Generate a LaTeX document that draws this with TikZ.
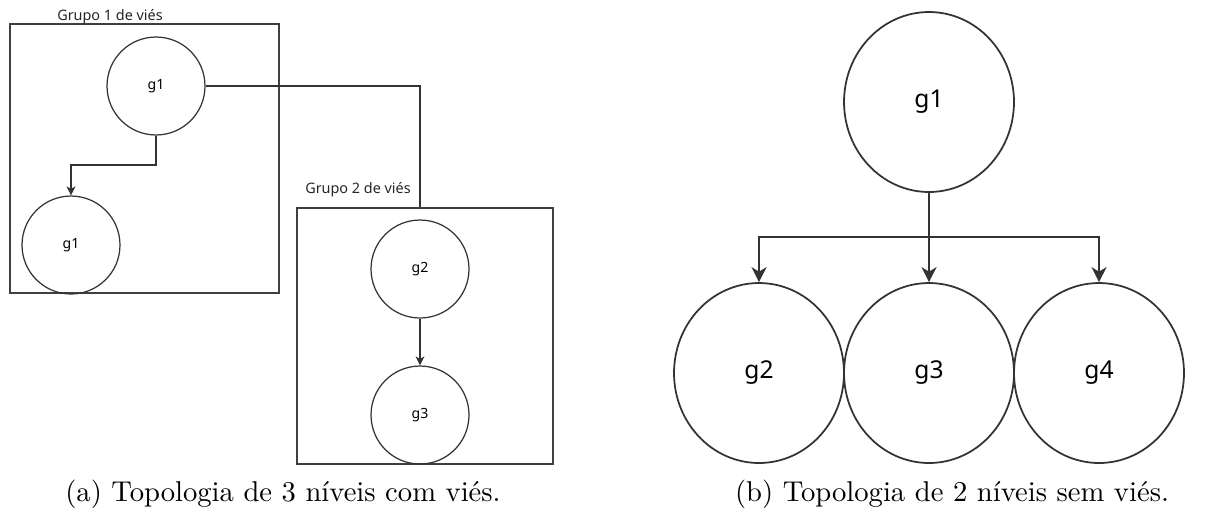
\documentclass[tikz,border=0pt]{standalone}
\usepackage{fontspec}
\newfontfamily\drawfont{Noto Sans}
\usetikzlibrary{arrows.meta, positioning, shapes.geometric}

\begin{document}
\begin{tikzpicture}[
    x=0.02cm, y=-0.02cm,
    grp/.style={rectangle, draw=black!75, line width=0.7pt, minimum width=5.38cm, minimum height=5.38cm},
    grplabel/.style={font=\drawfont\fontsize{8.2}{9}\selectfont, text=black!85},
    vtx/.style={circle, draw=black!80, line width=0.7pt, minimum size=1.96cm, font=\drawfont\fontsize{8}{9}\selectfont},
    bigvtx/.style={ellipse, draw=black!80, line width=1pt, minimum width=3.4cm, minimum height=3.6cm, font=\drawfont\fontsize{14}{16}\selectfont},
    arr/.style={-{Stealth[length=1.8mm, width=1.8mm, inset=0.5mm]}, line width=0.7pt, draw=black!80},
    bigarr/.style={-{Stealth[length=3mm, width=3mm, inset=0.9mm]}, line width=1.2pt, draw=black!80},
    caption/.style={font=\normalsize, scale=1.63},
]
\useasboundingbox (0,0) rectangle (1219,512);

% (a) two groups of bias
\node[grp] (box1) at (144.5,158.5) {};
\node[grp, minimum width=5.12cm, minimum height=5.12cm] (box2) at (425,336) {};
\node[grplabel] (lab1) at (110,17) {Grupo 1 de viés};
\node[grplabel] (lab2) at (358,190) {Grupo 2 de viés};

\node[vtx] (a1) at (156,86) {g1};
\node[vtx] (a1b) at (71,245) {g1};
\node[vtx] (a2) at (420,269) {g2};
\node[vtx] (a3) at (420,415) {g3};

\coordinate (bend) at (156,165);
\draw[arr] (a1.south) -- (bend) -| (a1b.north);
\draw[arr] (a2) -- (a3);
\draw[draw=black!80, line width=0.7pt] (a1.east) -| (a2 |- box2.north);

% (b) two levels, no bias
\node[bigvtx] (b1) at (929,102) {g1};
\node[bigvtx] (b2) at (759,373) {g2};
\node[bigvtx] (b3) at (929,373) {g3};
\node[bigvtx] (b4) at (1099,373) {g4};

\coordinate (split) at (929,237);
\draw[bigarr] (b1.south) -- (b3.north);
\draw[bigarr] (split) -| (b2.north);
\draw[bigarr] (split) -| (b4.north);

% captions
\node[caption] (capa) at (283,494) {(a) Topologia de 3 níveis com viés.};
\node[caption] (capb) at (952,494) {(b) Topologia de 2 níveis sem viés.};
\end{tikzpicture}
\end{document}
